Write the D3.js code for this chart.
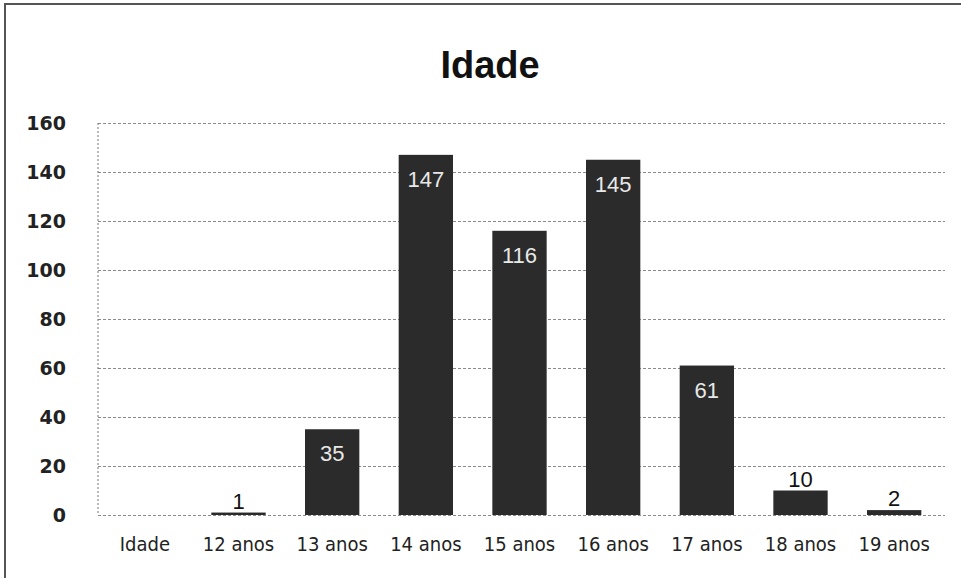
<!DOCTYPE html>
<html>
<head>
<meta charset="utf-8">
<script src="https://cdn.jsdelivr.net/npm/d3@7"></script>
<style>
  body { margin: 0; background: #fff; }
  svg { display: block; }
</style>
</head>
<body>
<div id="chart"></div>
<script>
// chart data
const categories = ["Idade", "12 anos", "13 anos", "14 anos", "15 anos", "16 anos", "17 anos", "18 anos", "19 anos"];
const values = [null, 1, 35, 147, 116, 145, 61, 10, 2];
const yTicks = [0, 20, 40, 60, 80, 100, 120, 140, 160];
const chartTitle = "Idade";

document.addEventListener('DOMContentLoaded', function () {
    const width = 961,
        height = 578,
        margin = {top: 123, right: 16, bottom: 63, left: 98};

    const svg = d3.select("#chart")
                    .append("svg")
                    .attr("width", width)
                    .attr("height", height);

    // outer frame of the chart (scanned, only top and left show)
    svg.append("path")
        .attr("d", "M5," + height + " L5,4 L" + width + ",4")
        .attr("fill", "none")
        .attr("stroke", "#555")
        .attr("stroke-width", 2);

    svg.append("text")
        .attr("x", 490)
        .attr("y", 78)
        .attr("text-anchor", "middle")
        .style("font-family", "'Liberation Sans Narrow', 'Liberation Sans', Arial, sans-serif")
        .style("font-weight", "bold")
        .style("font-size", "38px")
        .attr("fill", "#111")
        .text(chartTitle);

    const x = d3.scaleBand()
                .domain(categories)
                .range([margin.left, width - margin.right - 4])
                .paddingInner(0.42)
                .paddingOuter(0.21);

    const y = d3.scaleLinear()
                .domain([0, 160])
                .range([height - margin.bottom, margin.top]);

    // gridlines
    const grid = svg.append("g")
                    .attr("transform", "translate(" + margin.left + ",0)")
                    .call(d3.axisLeft(y)
                            .tickValues(yTicks)
                            .tickSize(-(width - margin.right - margin.left))
                            .tickFormat(""));
    grid.select(".domain").remove();
    grid.selectAll("line")
        .attr("stroke", "#8a8a8a")
        .attr("stroke-dasharray", "3,2")
        .attr("stroke-width", 1);

    // left axis line
    svg.append("line")
        .attr("x1", margin.left)
        .attr("x2", margin.left)
        .attr("y1", y(160))
        .attr("y2", y(0))
        .attr("stroke", "#777")
        .attr("stroke-dasharray", "2,2");

    // y labels
    const yAxis = svg.append("g")
                    .attr("transform", "translate(66,0)")
                    .call(d3.axisLeft(y).tickValues(yTicks).tickSize(0).tickPadding(0));
    yAxis.select(".domain").remove();
    yAxis.selectAll("text")
        .style("font-family", "'DejaVu Sans', sans-serif")
        .style("font-weight", "bold")
        .style("font-size", "19px")
        .attr("fill", "#222");

    // x labels
    const xAxis = svg.append("g")
                    .attr("transform", "translate(0," + (y(0) + 22) + ")")
                    .call(d3.axisBottom(x).tickSize(0).tickPadding(0));
    xAxis.select(".domain").remove();
    xAxis.selectAll("text")
        .attr("dy", "0.71em")
        .style("font-family", "'DejaVu Sans Condensed', 'DejaVu Sans', sans-serif")
        .style("font-size", "20px")
        .attr("fill", "#222");

    const data = categories.map((c, i) => ({cat: c, val: values[i]}))
                            .filter(d => d.val != null);

    svg.selectAll(".bar")
        .data(data)
        .enter()
        .append("rect")
        .attr("class", "bar")
        .attr("x", d => x(d.cat))
        .attr("width", x.bandwidth())
        .attr("y", d => y(d.val))
        .attr("height", d => y(0) - y(d.val))
        .attr("fill", "#2b2b2b");

    svg.selectAll(".val")
        .data(data)
        .enter()
        .append("text")
        .attr("class", "val")
        .attr("x", d => x(d.cat) + x.bandwidth() / 2)
        .attr("y", d => d.val >= 15 ? y(d.val) + 32 : y(d.val) - 4)
        .attr("text-anchor", "middle")
        .style("font-family", "'Liberation Sans Narrow', 'Liberation Sans', sans-serif")
        .style("font-size", "22px")
        .attr("fill", d => d.val >= 15 ? "#e8e8e8" : "#111")
        .text(d => d.val);
});
</script>
</body>
</html>
